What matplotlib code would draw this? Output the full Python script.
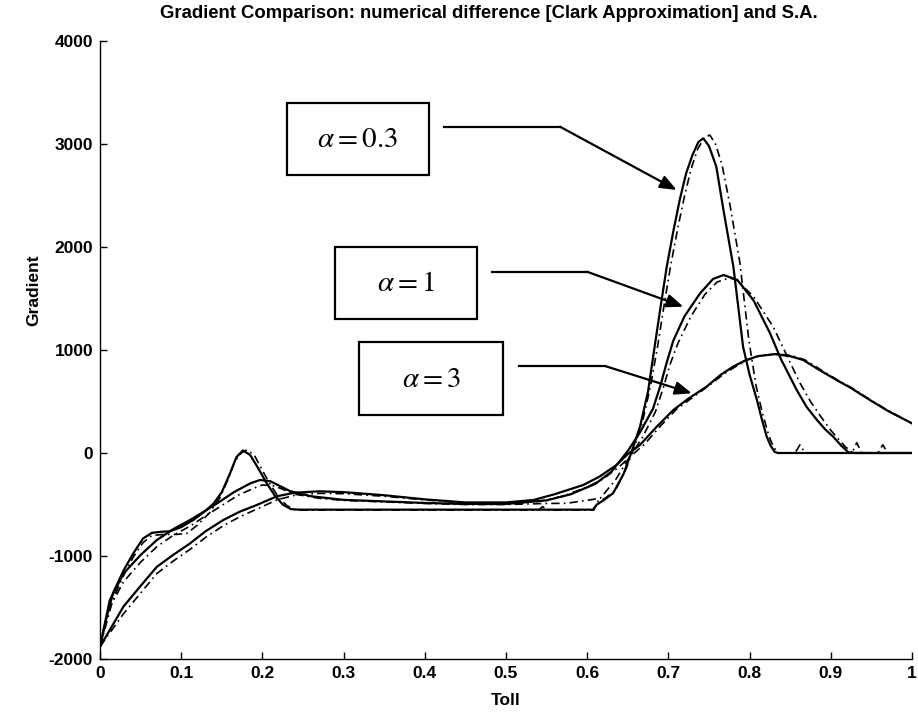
import matplotlib
matplotlib.use('Agg')
import matplotlib.pyplot as plt
from matplotlib.patches import Rectangle

plt.rcParams['mathtext.fontset'] = 'stix'
plt.rcParams['axes.unicode_minus'] = False

# ---- data ----
# alpha = 0.3, S.A. (solid)
x03_sa = [0.000, 0.008, 0.016, 0.029, 0.041, 0.053, 0.064, 0.075, 0.086, 0.100, 0.115, 0.130,
          0.140, 0.150, 0.160, 0.168, 0.176, 0.185, 0.195, 0.205, 0.215, 0.225, 0.235, 0.245,
          0.400, 0.607, 0.612, 0.620, 0.632, 0.645, 0.655, 0.665, 0.675, 0.683, 0.690, 0.698,
          0.706, 0.714, 0.722, 0.730, 0.737, 0.743, 0.750, 0.759, 0.768, 0.780, 0.792, 0.800,
          0.809, 0.815, 0.821, 0.826, 0.831, 0.835, 1.000]
y03_sa = [-1880, -1600, -1360, -1140, -975, -830, -775, -765, -760, -720, -650, -560,
          -490, -380, -200, -40, 25, -20, -150, -290, -410, -500, -545, -550,
          -550, -550, -500, -460, -390, -200, 20, 255, 600, 1030, 1400, 1810,
          2150, 2460, 2720, 2900, 3020, 3055, 2980, 2780, 2350, 1810, 1030, 760,
          515, 330, 160, 70, 10, 0, 0]

# alpha = 0.3, numerical difference (dash-dot)
x03_nd = [0.000, 0.008, 0.016, 0.029, 0.041, 0.053, 0.064, 0.080, 0.095, 0.107, 0.120, 0.135,
          0.148, 0.158, 0.166, 0.174, 0.181, 0.190, 0.200, 0.210, 0.220, 0.230, 0.240, 0.250,
          0.400, 0.540, 0.545, 0.550, 0.608, 0.613, 0.622, 0.635, 0.648, 0.658, 0.668, 0.678,
          0.687, 0.695, 0.703, 0.712, 0.720, 0.728, 0.736, 0.744, 0.751, 0.758, 0.766, 0.776,
          0.788, 0.799, 0.808, 0.816, 0.824, 0.830, 0.836, 0.856, 0.862, 0.868, 0.926, 0.932,
          0.938, 0.958, 0.964, 0.970, 1.000]
y03_nd = [-1880, -1650, -1420, -1190, -1010, -870, -800, -790, -790, -780, -700, -580,
          -430, -250, -80, 0, 30, -20, -170, -310, -430, -510, -550, -555,
          -555, -555, -520, -555, -555, -470, -440, -360, -150, 60, 300, 650,
          1050, 1450, 1830, 2200, 2500, 2760, 2950, 3060, 3087, 3000, 2800, 2400,
          1850, 1100, 650, 380, 160, 50, 0, 0, 80, 0, 0, 100,
          0, 0, 80, 0, 0]

# alpha = 1, S.A. (solid)
x1_sa = [0.000, 0.012, 0.029, 0.050, 0.070, 0.090, 0.111, 0.130, 0.144, 0.165, 0.185, 0.197,
         0.210, 0.234, 0.260, 0.300, 0.350, 0.400, 0.450, 0.500, 0.550, 0.580, 0.610, 0.630,
         0.650, 0.665, 0.681, 0.690, 0.698, 0.706, 0.720, 0.739, 0.755, 0.768, 0.785, 0.805,
         0.825, 0.839, 0.858, 0.870, 0.883, 0.893, 0.903, 0.913, 0.922, 0.930, 1.000]
y1_sa = [-1880, -1430, -1170, -990, -845, -740, -650, -560, -490, -380, -295, -262,
         -275, -370, -420, -455, -470, -485, -495, -495, -460, -400, -300, -180,
         20, 200, 430, 650, 880, 1090, 1330, 1550, 1690, 1728, 1680, 1480,
         1165, 905, 612, 450, 320, 230, 158, 70, 5, 0, 0]

# alpha = 1, numerical difference (dash-dot)
x1_nd = [0.000, 0.012, 0.029, 0.050, 0.070, 0.090, 0.111, 0.130, 0.150, 0.170, 0.190, 0.200,
         0.215, 0.240, 0.270, 0.300, 0.350, 0.400, 0.450, 0.500, 0.550, 0.575, 0.616, 0.635,
         0.652, 0.668, 0.684, 0.694, 0.702, 0.712, 0.728, 0.745, 0.760, 0.775, 0.784, 0.805,
         0.829, 0.845, 0.862, 0.875, 0.888, 0.900, 0.910, 0.918, 0.926, 0.932, 1.000]
y1_nd = [-1880, -1500, -1250, -1060, -910, -800, -710, -610, -510, -410, -340, -310,
         -320, -400, -440, -460, -475, -490, -500, -500, -490, -488, -440, -260,
         -40, 150, 400, 640, 860, 1070, 1330, 1540, 1660, 1700, 1680, 1517,
         1226, 960, 680, 500, 350, 220, 130, 60, 10, 0, 0]

# alpha = 3, S.A. (solid)
x3_sa = [0.000, 0.029, 0.049, 0.070, 0.090, 0.111, 0.130, 0.152, 0.172, 0.193, 0.218, 0.240,
         0.270, 0.300, 0.350, 0.400, 0.450, 0.500, 0.534, 0.560, 0.595, 0.615, 0.636, 0.650,
         0.665, 0.685, 0.706, 0.725, 0.747, 0.764, 0.780, 0.795, 0.810, 0.831, 0.850, 0.866,
         0.885, 0.907, 0.925, 0.948, 0.970, 1.000]
y3_sa = [-1880, -1490, -1300, -1105, -990, -877, -760, -650, -570, -505, -420, -385,
         -372, -380, -410, -450, -480, -480, -456, -400, -311, -230, -117, -10,
         78, 250, 417, 530, 644, 757, 840, 900, 940, 960, 940, 903,
         810, 709, 630, 515, 410, 288]

# alpha = 3, numerical difference (dash-dot)
x3_nd = [0.000, 0.029, 0.049, 0.070, 0.090, 0.111, 0.130, 0.152, 0.172, 0.193, 0.218, 0.240,
         0.270, 0.300, 0.350, 0.400, 0.450, 0.500, 0.540, 0.570, 0.600, 0.620, 0.640, 0.655,
         0.670, 0.690, 0.710, 0.730, 0.750, 0.768, 0.784, 0.798, 0.814, 0.834, 0.852, 0.868,
         0.887, 0.908, 0.926, 0.949, 0.971, 1.000]
y3_nd = [-1880, -1560, -1370, -1170, -1050, -935, -820, -705, -620, -545, -455, -410,
         -392, -395, -420, -455, -485, -490, -470, -420, -330, -250, -130, -20,
         80, 260, 425, 540, 655, 765, 845, 905, 945, 962, 945, 905,
         812, 710, 632, 515, 410, 285]

title = 'Gradient Comparison: numerical difference [Clark Approximation] and S.A.'
xticks = [0, 0.1, 0.2, 0.3, 0.4, 0.5, 0.6, 0.7, 0.8, 0.9, 1]
xtick_labels = ['0', '0.1', '0.2', '0.3', '0.4', '0.5', '0.6', '0.7', '0.8', '0.9', '1']
yticks = [-2000, -1000, 0, 1000, 2000, 3000, 4000]

W, H = 918, 713
fig = plt.figure(figsize=(W / 100, H / 100), dpi=100)
ax = fig.add_axes([100 / W, 1 - 659 / H, 812 / W, 618 / H])

bold = dict(family='Liberation Sans', weight='bold')

solid_kw = dict(color='black', lw=1.6, solid_joinstyle='round')
dd_kw = dict(color='black', lw=1.2, linestyle=(0, (5, 2.5, 1, 2.5)))
ax.plot(x03_sa, y03_sa, **solid_kw)
ax.plot(x03_nd, y03_nd, **dd_kw)
ax.plot(x1_sa, y1_sa, **solid_kw)
ax.plot(x1_nd, y1_nd, **dd_kw)
ax.plot(x3_sa, y3_sa, **solid_kw)
ax.plot(x3_nd, y3_nd, **dd_kw)

ax.set_xlim(0, 1)
ax.set_ylim(-2000, 4000)
ax.set_xticks(xticks)
ax.set_xticklabels(xtick_labels)
ax.set_yticks(yticks)
ax.spines['top'].set_visible(False)
ax.spines['right'].set_visible(False)
ax.spines['left'].set_linewidth(1.0)
ax.spines['bottom'].set_linewidth(1.0)
ax.tick_params(direction='in', length=5, width=1.0, pad=5)
for lab in ax.get_xticklabels() + ax.get_yticklabels():
    lab.set_fontproperties(dict(bold, size=12.5))
ax.set_xlabel('Toll', fontsize=12.5, **bold)
ax.xaxis.set_label_coords(0.5, -0.055)
ax.set_ylabel('Gradient', fontsize=12.5, **bold)
ax.yaxis.set_label_coords(-0.072, 0.597)
fig.text(489 / W, 1 - 14 / H, title, ha='center', va='center', fontsize=13.3, **bold)

# overlay in pixel coordinates for the text boxes and arrows
ov = fig.add_axes([0, 0, 1, 1], zorder=5)
ov.set_xlim(0, W)
ov.set_ylim(H, 0)
ov.axis('off')
ov.patch.set_alpha(0)

boxes = [((286.7, 102.7, 142.3, 72.3), r'$\alpha = 0.3$', (444, 560, 126.7), (676.7, 190)),
         ((335, 246.7, 141.7, 72.6), r'$\alpha = 1$', (491.7, 587, 271.7), (683.3, 306.7)),
         ((359.3, 342.3, 144, 72.7), r'$\alpha = 3$', (519.3, 605, 366), (691.7, 393.3))]
for (bx, by, bw, bh), txt, (lx0, lx1, ly), tip in boxes:
    ov.add_patch(Rectangle((bx, by), bw, bh, fill=False, ec='black', lw=1.6))
    ov.text(bx + bw / 2, by + bh / 2, txt, ha='center', va='center', fontsize=21)
    ov.plot([lx0, lx1], [ly, ly], color='black', lw=1.6)
    ov.annotate('', xy=tip, xytext=(lx1, ly),
                arrowprops=dict(arrowstyle='-|>,head_length=1.0,head_width=0.4',
                                color='black', lw=1.6, shrinkA=0, shrinkB=0))

fig.savefig('out.png', dpi=100)
